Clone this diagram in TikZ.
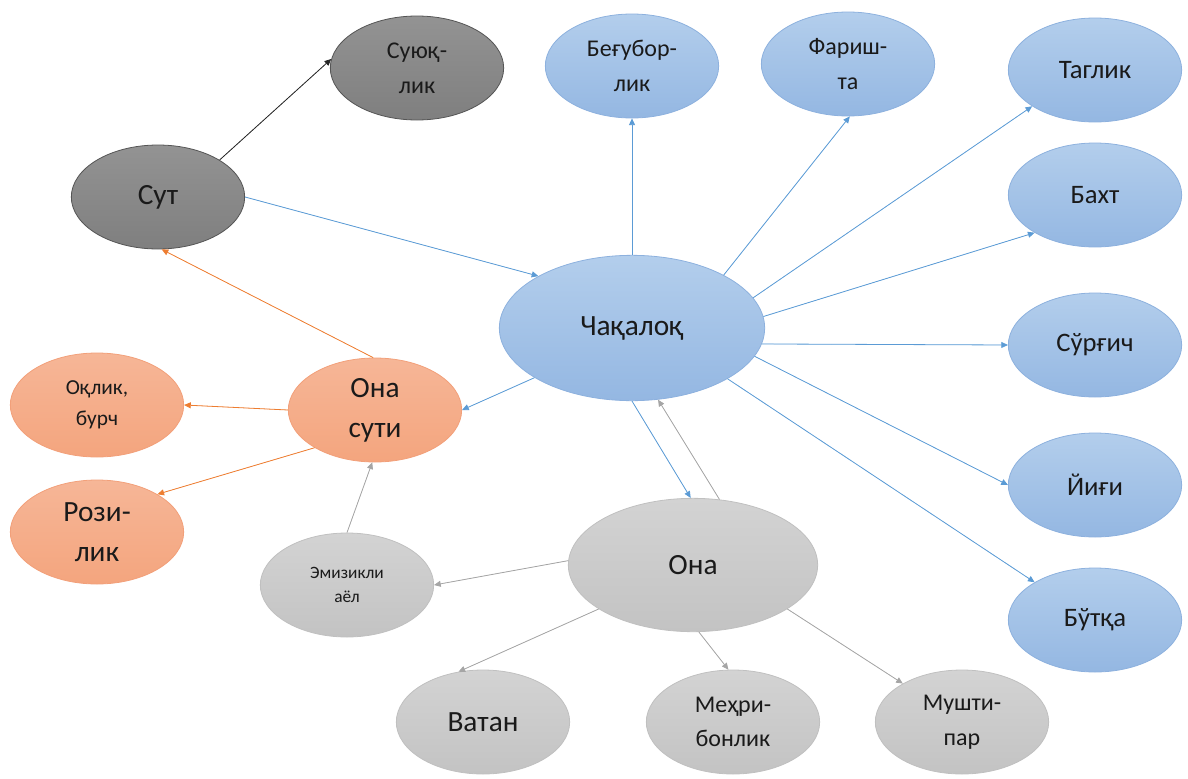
\documentclass[tikz,border=0pt]{standalone}
\usepackage{fontspec}
\setmainfont{Carlito}
\usetikzlibrary{shapes.geometric,arrows.meta}
\definecolor{bT}{HTML}{B3CEEC}
\definecolor{bB}{HTML}{94B7E2}
\definecolor{bE}{HTML}{8DB1DE}
\definecolor{oT}{HTML}{F6B697}
\definecolor{oB}{HTML}{F4A57E}
\definecolor{oE}{HTML}{F2A07A}
\definecolor{gT}{HTML}{D3D3D3}
\definecolor{gB}{HTML}{C3C3C3}
\definecolor{gE}{HTML}{C0C0C0}
\definecolor{dT}{HTML}{939393}
\definecolor{dB}{HTML}{7F7F7F}
\definecolor{dE}{HTML}{555555}
\definecolor{lBlue}{HTML}{5B9BD5}
\definecolor{lOrange}{HTML}{ED7D31}
\definecolor{lGray}{HTML}{A5A5A5}
\definecolor{lBlack}{HTML}{262626}
\definecolor{txt}{HTML}{1A1A1A}
\tikzset{
  bub/.style={ellipse, inner sep=0pt, minimum width=130pt, minimum height=78pt, align=center, text=txt, line width=0.6pt},
  bluebub/.style={bub, draw=bE, top color=bT, bottom color=bB},
  orbub/.style={bub, draw=oE, top color=oT, bottom color=oB},
  graybub/.style={bub, draw=gE, top color=gT, bottom color=gB},
  darkbub/.style={bub, draw=dE, top color=dT, bottom color=dB},
  fbig/.style={font=\fontsize{22}{30}\selectfont},
  fmid/.style={font=\fontsize{18}{26}\selectfont},
  fside/.style={font=\fontsize{20}{26}\selectfont},
  fsmall/.style={font=\fontsize{16}{23}\selectfont},
  ftiny/.style={font=\fontsize{13}{18}\selectfont},
  arr/.style={-{Triangle[length=5pt,width=4.5pt]}, line width=0.6pt},
  barr/.style={arr, draw=lBlue, fill=lBlue},
  oarr/.style={arr, draw=lOrange, fill=lOrange},
  garr/.style={arr, draw=lGray, fill=lGray},
  karr/.style={arr, draw=lBlack, fill=lBlack},
}
\begin{document}
\begin{tikzpicture}[x=0.75pt,y=-0.75pt]
\useasboundingbox (0,0) rectangle (1188,778);
% nodes
\node[darkbub, fmid] (suyuq) at (417,68) {Суюқ-\\лик};
\node[bluebub, fmid] (begubor) at (632,66) {Беғубор-\\лик};
\node[bluebub, fmid] (farish) at (848,64) {Фариш-\\та};
\node[bluebub, fside] (taglik) at (1095,70) {Таглик};
\node[bluebub, fside] (baxt) at (1095,195) {Бахт};
\node[bluebub, fside] (surgich) at (1095,345) {Сўрғич};
\node[bluebub, fside] (yigi) at (1095,485) {Йиғи};
\node[bluebub, fside] (butqa) at (1095,620) {Бўтқа};
\node[darkbub, fbig] (sut) at (158,197) {Сут};
\node[bluebub, fbig, minimum width=199pt, minimum height=109pt] (chaq) at (632,328) {Чақалоқ};
\node[orbub, fbig] (onasuti) at (375,410) {Она\\сути};
\node[orbub, fsmall] (oqlik) at (97,405) {Оқлик,\\бурч};
\node[orbub, fbig] (rozilik) at (97,532) {Рози-\\лик};
\node[graybub, ftiny] (emiz) at (347,585) {Эмизикли\\аёл};
\node[graybub, fbig, minimum width=187pt, minimum height=100pt] (ona) at (693,565) {Она};
\node[graybub, fbig] (vatan) at (483,722) {Ватан};
\node[graybub, fmid] (mehri) at (733,722) {Меҳри-\\бонлик};
\node[graybub, fmid] (mushti) at (962,722) {Мушти-\\пар};
% connectors
\draw[karr] (sut.31) -- (suyuq.174);
\draw[barr] (sut.0) -- (chaq.151);
\draw[oarr] (onasuti.92) -- (sut.274);
\draw[barr] (chaq.207) -- (onasuti.0);
\draw[oarr] (onasuti.180) -- (oqlik.0);
\draw[oarr] (onasuti.212) -- (rozilik.32);
\draw[garr] (emiz.90) -- (onasuti.267);
\draw[garr] (ona.178) -- (emiz.0);
\draw[barr] (chaq.270) -- (ona.92);
\draw[garr] (ona.68) -- (chaq.290);
\draw[garr] (ona.205) -- (vatan.116);
\draw[garr] (ona.275) -- (mehri.95);
\draw[garr] (ona.335) -- (mushti.147);
\draw[barr] (chaq.90) -- (begubor.270);
\draw[barr] (chaq.30) -- (farish.272);
\draw[barr] (chaq.14) -- (taglik.210);
\draw[barr] (chaq.5) -- (baxt.212);
\draw[barr] (chaq.-7) -- (surgich.180);
\draw[barr] (chaq.-13) -- (yigi.180);
\draw[barr] (chaq.-28) -- (butqa.148);
\end{tikzpicture}
\end{document}
